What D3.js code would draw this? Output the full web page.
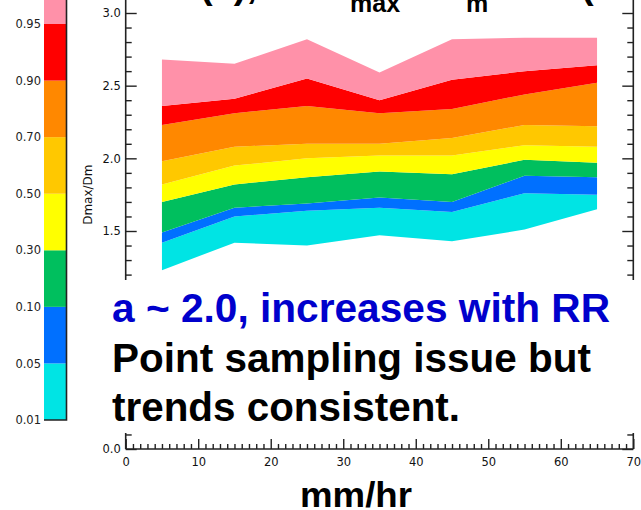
<!DOCTYPE html>
<html>
<head>
<meta charset="utf-8">
<script src="https://cdn.jsdelivr.net/npm/d3@7"></script>
<style>
  html, body { margin: 0; padding: 0; background: #fff; overflow: hidden; }
  svg { display: block; }
</style>
</head>
<body>
<script>
// Rain-rate bins (mm/hr) and percentiles of Dmax/Dm in each bin
const rainRate = [5, 15, 25, 35, 45, 55, 65];
const p01 = [1.23, 1.42, 1.40, 1.47, 1.43, 1.51, 1.65];
const p05 = [1.42, 1.60, 1.64, 1.66, 1.63, 1.76, 1.75];
const p10 = [1.49, 1.66, 1.69, 1.73, 1.70, 1.88, 1.87];
const p30 = [1.70, 1.82, 1.87, 1.91, 1.89, 1.99, 1.97];
const p50 = [1.82, 1.95, 2.00, 2.02, 2.02, 2.09, 2.08];
const p70 = [1.98, 2.08, 2.10, 2.10, 2.14, 2.23, 2.22];
const p90 = [2.23, 2.31, 2.36, 2.31, 2.34, 2.44, 2.52];
const p95 = [2.36, 2.41, 2.55, 2.40, 2.54, 2.60, 2.64];
const p99 = [2.68, 2.65, 2.82, 2.59, 2.82, 2.83, 2.83];

const bandColors = ["#00e4e4", "#0070ff", "#00bf5e", "#ffff00", "#ffc800", "#ff8800", "#ff0000", "#ff91a9"];
const colorbarLabels = ["0.01", "0.05", "0.10", "0.30", "0.50", "0.70", "0.90", "0.95"];
const yMajorTicks = [0, 0.5, 1.0, 1.5, 2.0, 2.5, 3.0];
const xMajorTicks = [0, 10, 20, 30, 40, 50, 60, 70];
const notes = ["a ~ 2.0, increases with RR", "Point sampling issue but", "trends consistent."];

const W = 641, H = 510;
const svg = d3.select("body").append("svg").attr("width", W).attr("height", H);

const x = d3.scaleLinear().domain([0, 70]).range([125.7, 633.3]);
const y = d3.scaleLinear().domain([0, 3]).range([449, 13]);

const tickFont = "'DejaVu Sans', sans-serif";
const axisColor = "#222";

// ---- stacked percentile bands ----
const levels = [p01, p05, p10, p30, p50, p70, p90, p95, p99];
const rows = rainRate.map((r, j) => ({ r, v: levels.map(l => l[j]) }));
bandColors.forEach((c, i) => {
  const area = d3.area()
    .x(d => x(d.r))
    .y0(d => y(d.v[i]))
    .y1(d => y(d.v[i + 1]));
  svg.append("path").datum(rows).attr("d", area).attr("fill", c);
});

// ---- axes ----
function styleAxis(g) {
  g.select(".domain").remove();
  g.selectAll("line").attr("stroke", axisColor).attr("stroke-width", 1.4);
  g.selectAll("text").attr("font-family", tickFont).attr("font-size", 11.5).attr("fill", "#111");
}
const yMinor = d3.range(0, 31).map(i => i / 10).filter(v => !yMajorTicks.some(m => Math.abs(m - v) < 1e-6));
const xMinor = d3.range(0, 71).filter(v => v % 10 !== 0);

// left axis
svg.append("g").attr("transform", `translate(${x(0)},0)`)
  .call(d3.axisLeft(y).tickValues(yMajorTicks).tickSizeInner(-11).tickSizeOuter(0).tickPadding(5).tickFormat(d3.format(".1f")))
  .call(styleAxis);
svg.append("g").attr("transform", `translate(${x(0)},0)`)
  .call(d3.axisLeft(y).tickValues(yMinor).tickSizeInner(-6).tickSizeOuter(0).tickFormat(""))
  .call(styleAxis);
// right axis
svg.append("g").attr("transform", `translate(${x(70)},0)`)
  .call(d3.axisRight(y).tickValues(yMajorTicks).tickSizeInner(-11).tickSizeOuter(0).tickFormat(""))
  .call(styleAxis);
svg.append("g").attr("transform", `translate(${x(70)},0)`)
  .call(d3.axisRight(y).tickValues(yMinor).tickSizeInner(-6).tickSizeOuter(0).tickFormat(""))
  .call(styleAxis);
// frame sides
[0, 70].forEach(v => {
  svg.append("line").attr("x1", x(v)).attr("x2", x(v)).attr("y1", y(0)).attr("y2", y(3.1))
    .attr("stroke", axisColor).attr("stroke-width", 1.6);
});
// bottom axis
svg.append("g").attr("transform", `translate(0,${y(0)})`)
  .call(d3.axisBottom(x).tickValues(xMajorTicks).tickSizeInner(-10).tickSizeOuter(0).tickPadding(9).tickFormat(d3.format("d")))
  .call(styleAxis);
svg.append("g").attr("transform", `translate(0,${y(0)})`)
  .call(d3.axisBottom(x).tickValues(xMinor).tickSizeInner(-5).tickSizeOuter(0).tickFormat(""))
  .call(styleAxis);
svg.append("line").attr("x1", x(0)).attr("x2", x(70)).attr("y1", y(0)).attr("y2", y(0))
  .attr("stroke", axisColor).attr("stroke-width", 1.6);

// y-axis title
svg.append("text")
  .attr("transform", `translate(92,${y(1.75)}) rotate(-90)`)
  .attr("text-anchor", "middle")
  .attr("font-family", tickFont).attr("font-size", 12).attr("fill", "#111")
  .text("Dmax/Dm");

// ---- colour bar ----
const cb = d3.scaleLinear().domain([0, colorbarLabels.length - 1]).range([420, 24]);
bandColors.forEach((c, i) => {
  svg.append("rect").attr("x", 44).attr("width", 22.5)
    .attr("y", cb(i + 1)).attr("height", cb(i) - cb(i + 1)).attr("fill", c);
});
svg.append("path").attr("d", `M66.5,0V${cb(0)}H44`).attr("fill", "none")
  .attr("stroke", axisColor).attr("stroke-width", 1.6);
colorbarLabels.forEach((t, i) => {
  svg.append("text").attr("x", 41).attr("y", cb(i)).attr("dy", "0.36em")
    .attr("text-anchor", "end").attr("font-family", tickFont).attr("font-size", 11.5)
    .attr("fill", "#222").text(t);
});

// ---- slide title (runs off the top edge) ----
const title = svg.append("text").attr("font-family", "'Liberation Sans', Arial, sans-serif")
  .attr("font-weight", "bold").attr("fill", "#000");
title.append("tspan").attr("x", 143).attr("y", -2).attr("font-size", 38).text("Fit (a), a =");
title.append("tspan").attr("x", 322).attr("y", -2).attr("font-size", 38).text("D");
title.append("tspan").attr("x", 350).attr("y", 12).attr("font-size", 25).text("max");
title.append("tspan").attr("x", 414).attr("y", -2).attr("font-size", 38).text("/ D");
title.append("tspan").attr("x", 466).attr("y", 12).attr("font-size", 25).text("m");
title.append("tspan").attr("x", 581).attr("y", -2).attr("font-size", 38).text("(RR)");

// ---- text panel over the lower part of the plot ----
svg.append("rect").attr("x", 88).attr("y", 280).attr("width", W - 88).attr("height", 153).attr("fill", "#fff");
const noteStyle = [
  { fill: "#0000cc", y: 322, len: 498 },
  { fill: "#000", y: 372, len: 479 },
  { fill: "#000", y: 421, len: 348 }
];
notes.forEach((t, i) => {
  svg.append("text").attr("x", 112).attr("y", noteStyle[i].y)
    .attr("font-family", "'Liberation Sans', Arial, sans-serif").attr("font-weight", "bold")
    .attr("font-size", 40).attr("fill", noteStyle[i].fill)
    .attr("textLength", noteStyle[i].len).attr("lengthAdjust", "spacingAndGlyphs")
    .text(t);
});

// x-axis title
svg.append("text").attr("x", 300).attr("y", 507)
  .attr("font-family", "'Liberation Sans', Arial, sans-serif").attr("font-weight", "bold")
  .attr("font-size", 35).attr("fill", "#000")
  .attr("textLength", 112).attr("lengthAdjust", "spacingAndGlyphs")
  .text("mm/hr");
</script>
</body>
</html>
